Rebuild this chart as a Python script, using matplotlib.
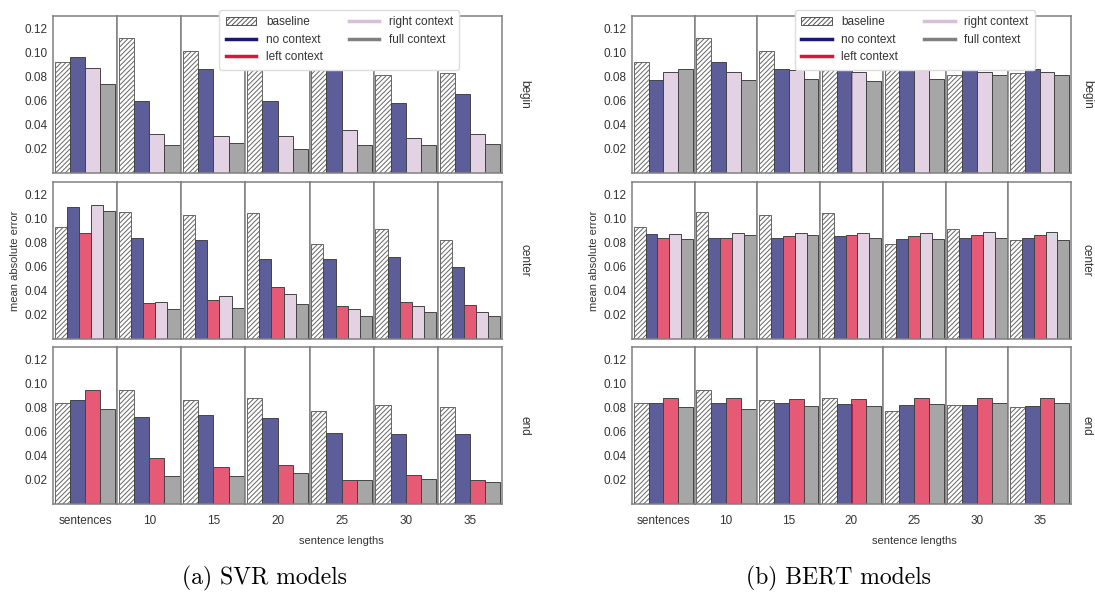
# MAE per sentence length, SVR vs BERT context models
import numpy as np
import matplotlib
matplotlib.use('Agg')
import matplotlib.pyplot as plt
from matplotlib.colors import to_rgba
from matplotlib.patches import Patch
from matplotlib.lines import Line2D

groups = ['sentences', '10', '15', '20', '25', '30', '35']
positions = ['begin', 'center', 'end']

# baseline is the same for both models
baseline_begin = [0.092, 0.112, 0.101, 0.092, 0.091, 0.081, 0.083]
baseline_center = [0.093, 0.105, 0.103, 0.104, 0.079, 0.091, 0.082]
baseline_end = [0.084, 0.094, 0.086, 0.088, 0.077, 0.082, 0.080]

svr_begin_no = [0.096, 0.060, 0.086, 0.060, 0.085, 0.058, 0.065]
svr_begin_right = [0.087, 0.032, 0.031, 0.031, 0.036, 0.029, 0.032]
svr_begin_full = [0.074, 0.023, 0.025, 0.020, 0.023, 0.023, 0.024]

svr_center_no = [0.109, 0.084, 0.082, 0.066, 0.066, 0.068, 0.060]
svr_center_left = [0.088, 0.030, 0.032, 0.043, 0.027, 0.031, 0.028]
svr_center_right = [0.111, 0.031, 0.036, 0.037, 0.025, 0.027, 0.022]
svr_center_full = [0.106, 0.025, 0.026, 0.029, 0.019, 0.022, 0.019]

svr_end_no = [0.086, 0.072, 0.074, 0.071, 0.059, 0.058, 0.058]
svr_end_left = [0.094, 0.038, 0.031, 0.032, 0.020, 0.024, 0.020]
svr_end_full = [0.079, 0.023, 0.023, 0.026, 0.020, 0.021, 0.018]

bert_begin_no = [0.077, 0.092, 0.086, 0.089, 0.087, 0.086, 0.086]
bert_begin_right = [0.084, 0.084, 0.085, 0.084, 0.085, 0.084, 0.084]
bert_begin_full = [0.086, 0.077, 0.078, 0.076, 0.078, 0.081, 0.081]

bert_center_no = [0.087, 0.084, 0.084, 0.085, 0.083, 0.084, 0.084]
bert_center_left = [0.084, 0.084, 0.085, 0.086, 0.085, 0.086, 0.086]
bert_center_right = [0.087, 0.088, 0.088, 0.088, 0.088, 0.089, 0.089]
bert_center_full = [0.083, 0.086, 0.086, 0.084, 0.083, 0.084, 0.082]

bert_end_no = [0.084, 0.084, 0.084, 0.083, 0.082, 0.082, 0.081]
bert_end_left = [0.088, 0.088, 0.087, 0.087, 0.088, 0.088, 0.088]
bert_end_full = [0.080, 0.079, 0.081, 0.081, 0.083, 0.084, 0.084]

data = {
    'svr': {
        'begin': [('baseline', baseline_begin), ('no context', svr_begin_no),
                  ('right context', svr_begin_right), ('full context', svr_begin_full)],
        'center': [('baseline', baseline_center), ('no context', svr_center_no),
                   ('left context', svr_center_left), ('right context', svr_center_right),
                   ('full context', svr_center_full)],
        'end': [('baseline', baseline_end), ('no context', svr_end_no),
                ('left context', svr_end_left), ('full context', svr_end_full)],
    },
    'bert': {
        'begin': [('baseline', baseline_begin), ('no context', bert_begin_no),
                  ('right context', bert_begin_right), ('full context', bert_begin_full)],
        'center': [('baseline', baseline_center), ('no context', bert_center_no),
                   ('left context', bert_center_left), ('right context', bert_center_right),
                   ('full context', bert_center_full)],
        'end': [('baseline', baseline_end), ('no context', bert_end_no),
                ('left context', bert_end_left), ('full context', bert_end_full)],
    },
}

colors = {'no context': '#191970', 'left context': '#dc143c',
          'right context': '#d8bfd8', 'full context': '#808080'}

plt.rcParams['font.family'] = ['Liberation Sans', 'DejaVu Sans']
plt.rcParams['hatch.linewidth'] = 0.7

W, H = 1095, 606
fig = plt.figure(figsize=(W / 100, H / 100), dpi=100)

row_tops = [16, 182, 347]
row_h = 157
text_col = '#333333'


def draw_panel(model, x0, x1, label_off, caption):
    cell_w = (x1 - x0) / 7
    for r, pos in enumerate(positions):
        top = row_tops[r]
        series = data[model][pos]
        n = len(series)
        for g in range(7):
            ax = fig.add_axes([(x0 + g * cell_w) / W, 1 - (top + row_h) / H,
                               cell_w / W, row_h / H])
            for i, (name, vals) in enumerate(series):
                if name == 'baseline':
                    ax.bar(i, vals[g], width=1, color='white', edgecolor='#666666',
                           hatch='///////', linewidth=0.7)
                else:
                    ax.bar(i, vals[g], width=1, color=to_rgba(colors[name], 0.7),
                           edgecolor='#444444', linewidth=0.7)
            pad = 0.028 * n
            ax.set_xlim(-0.5 - pad, n - 0.5 + pad)
            ax.set_ylim(0, 0.13)
            for s in ax.spines.values():
                s.set_color('#808080')
                s.set_linewidth(1.1)
            ax.tick_params(length=0, labelsize=8.5, labelcolor=text_col, pad=4)
            if g == 0:
                ax.set_yticks([0.02, 0.04, 0.06, 0.08, 0.10, 0.12])
                ax.set_yticklabels(['0.02', '0.04', '0.06', '0.08', '0.10', '0.12'])
            else:
                ax.set_yticks([])
            if r == 2:
                ax.set_xticks([(n - 1) / 2])
                ax.set_xticklabels([groups[g]])
                ax.tick_params(axis='x', pad=8)
            else:
                ax.set_xticks([])
        fig.text((x1 + label_off) / W, 1 - (top + row_h / 2) / H, pos, rotation=270,
                 ha='center', va='center', fontsize=8.5, color=text_col)

    fig.text((x0 - 38) / W, 1 - (row_tops[1] + row_h / 2) / H, 'mean absolute error',
             rotation=90, ha='center', va='center', fontsize=8, color=text_col)
    fig.text((x0 + 4.5 * cell_w) / W, 1 - 541 / H, 'sentence lengths',
             ha='center', va='center', fontsize=8, color=text_col)
    fig.text((x0 + x1) / 2 / W - 0.012, 1 - 578 / H, caption, ha='center', va='center',
             fontsize=17, family='cmr10')

    handles = [Patch(facecolor='white', edgecolor='#555555', hatch='///////', linewidth=0.7)]
    labels = ['baseline']
    for name in ['no context', 'left context', 'right context', 'full context']:
        handles.append(Line2D([], [], color=colors[name], linewidth=2.5))
        labels.append(name)
    fig.legend(handles, labels, ncol=2, loc='upper left',
               bbox_to_anchor=((x0 + 2.5 * cell_w) / W, 1 - 4 / H),
               fontsize=8.5, frameon=True, framealpha=1, edgecolor='#dddddd',
               handlelength=2.6, columnspacing=2.2, labelspacing=0.45,
               borderpad=0.55, labelcolor=text_col)


draw_panel('svr', 53, 502, 22, '(a) SVR models')
draw_panel('bert', 632, 1071, 16, '(b) BERT models')

fig.savefig('out.png', dpi=100)
